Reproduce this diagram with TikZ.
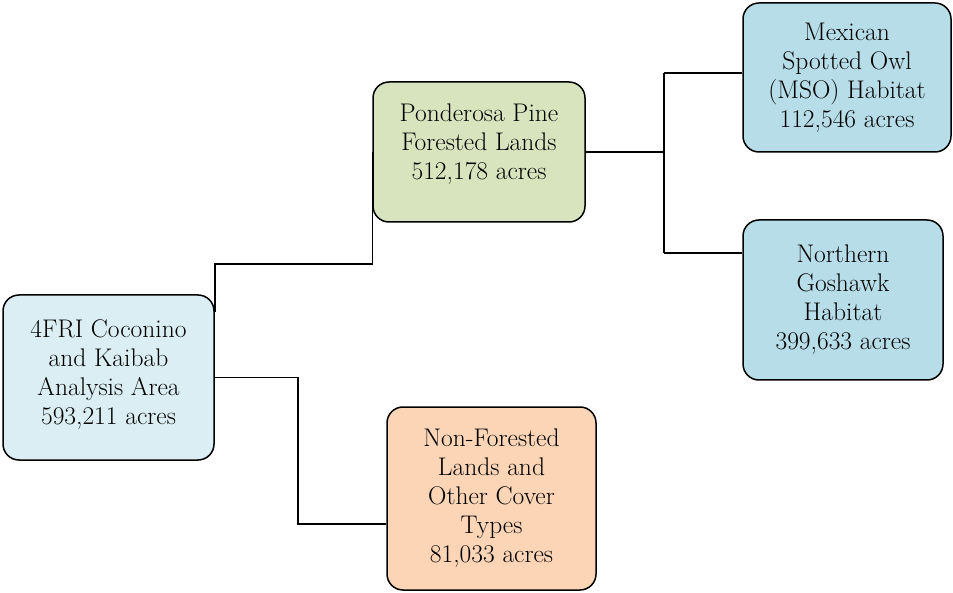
\documentclass[tikz,border=0pt]{standalone}
\usepackage{fontspec}
\definecolor{rootfill}{HTML}{DAEEF3}
\definecolor{pondfill}{HTML}{D7E4BD}
\definecolor{nonffill}{HTML}{FBD5B5}
\definecolor{habfill}{HTML}{B7DDE8}
\begin{document}
\begin{tikzpicture}[x=1pt,y=-1pt,
  box/.style={draw=black, line width=1.5pt, rounded corners=16pt, align=center,
    font=\fontsize{25.5}{29}\selectfont, inner sep=0pt},
  conn/.style={draw=black, line width=1.5pt}]
\useasboundingbox (0,0) rectangle (953,593);
\node[box, fill=rootfill, minimum width=211pt, minimum height=165pt] (root) at (108.5,377.5)
  {4FRI Coconino\\and Kaibab\\Analysis Area\\593,211 acres\\[-19pt]\mbox{}};
\node[box, fill=pondfill, minimum width=212pt, minimum height=140pt] (pond) at (479,152)
  {Ponderosa Pine\\Forested Lands\\512,178 acres\\[-9pt]\mbox{}};
\node[box, fill=nonffill, minimum width=209pt, minimum height=183pt] (nonf) at (491.5,498.5)
  {Non-Forested\\Lands and\\Other Cover\\Types\\81,033 acres};
\node[box, fill=habfill, minimum width=208pt, minimum height=149pt] (mso) at (847,77.5)
  {Mexican\\Spotted Owl\\(MSO) Habitat\\112,546 acres};
\node[box, fill=habfill, minimum width=200pt, minimum height=160pt] (gos) at (843,300)
  {Northern\\Goshawk\\Habitat\\399,633 acres};
\coordinate (j1) at (214,264);
\coordinate (j2) at (298,524);
\coordinate (j3) at (664,152);
\coordinate (j4) at (664,73);
\coordinate (j5) at (664,253);
\draw[conn] ([yshift=-18pt]root.north east) -- (root.east |- j1) -- (pond.west |- j1) -- (pond.west);
\draw[conn] (root.east) -| (j2) -- (nonf.west |- j2);
\draw[conn] (pond.east) -- (j3);
\draw[conn] (j4) -- (j5);
\draw[conn] (j4) -- (mso.west |- j4);
\draw[conn] (j5) -- (gos.west |- j5);
\end{tikzpicture}
\end{document}
